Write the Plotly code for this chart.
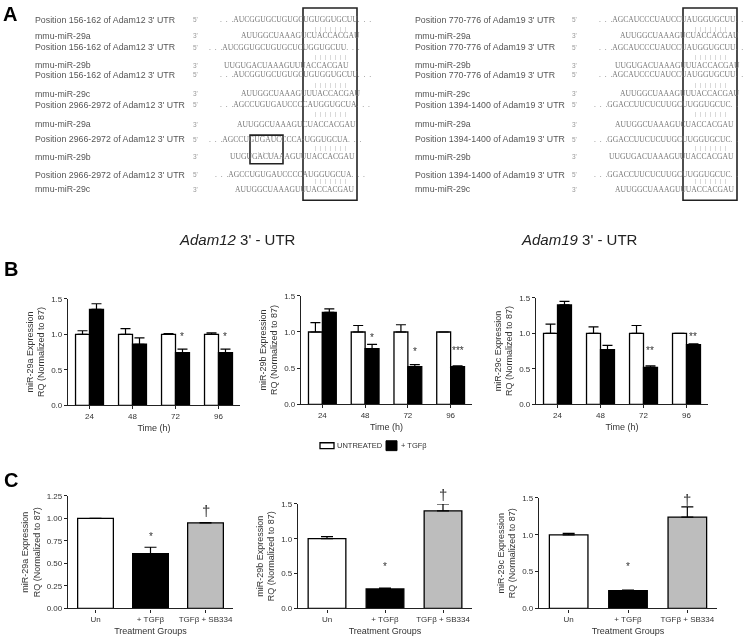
import plotly.graph_objects as go

W, H = 747, 641
def px(x): return x / W
def py(y): return 1 - y / H

D3 = ".\u2002.\u2002."  # spaced ellipsis used in the alignments
D2 = ".\u2002."

# ---------------- DATA ----------------
# Panel A: sequence alignments
adam12_labels = ["Position 156-162 of Adam12 3' UTR", "mmu-miR-29a",
                 "Position 156-162 of Adam12 3' UTR", "mmu-miR-29b",
                 "Position 156-162 of Adam12 3' UTR", "mmu-miR-29c",
                 "Position 2966-2972 of Adam12 3' UTR", "mmu-miR-29a",
                 "Position 2966-2972 of Adam12 3' UTR", "mmu-miR-29b",
                 "Position 2966-2972 of Adam12 3' UTR", "mmu-miR-29c"]
adam12_seqs = ["AUCGGUGCUGUGCUGUGGUGCUU", "AUUGGCUAAAGUCUACCACGAU",
               "AUCGGUGCUGUGCUCUGGUGCUU", "UUGUGACUAAAGUUUACCACGAU",
               "AUCGGUGCUGUGCUGUGGUGCUU", "AUUGGCUAAAGUUUACCACGAU",
               "AGCCUGUGAUCCCCAUGGUGCUA", "AUUGGCUAAAGUCUACCACGAU",
               "AGCCUGUGAUCCCCA-UGGUGCUA", "UUGUGACUAAAGUUUACCACGAU",
               "AGCCUGUGAUCCCCAUGGUGCUA", "AUUGGCUAAAGUUUACCACGAU"]
adam19_labels = ["Position 770-776 of Adam19 3' UTR", "mmu-miR-29a",
                 "Position 770-776 of Adam19 3' UTR", "mmu-miR-29b",
                 "Position 770-776 of Adam19 3' UTR", "mmu-miR-29c",
                 "Position 1394-1400 of Adam19 3' UTR", "mmu-miR-29a",
                 "Position 1394-1400 of Adam19 3' UTR", "mmu-miR-29b",
                 "Position 1394-1400 of Adam19 3' UTR", "mmu-miR-29c"]
adam19_seqs = ["AGCAUCCCUAUCCUAUGGUGCUU", "AUUGGCUAAAGUCUACCACGAU",
               "AGCAUCCCUAUCCUAUGGUGCUU", "UUGUGACUAAAGUUUACCACGAU",
               "AGCAUCCCUAUCCUAUGGUGCUU", "AUUGGCUAAAGUUUACCACGAU",
               "GGACCUUCUCUUGCUUGGUGCUC", "AUUGGCUAAAGUCUACCACGAU",
               "GGACCUUCUCUUGCUUGGUGCUC", "UUGUGACUAAAGUUUACCACGAU",
               "GGACCUUCUCUUGCUUGGUGCUC", "AUUGGCUAAAGUUUACCACGAU"]
primes = ["5'", "3'"] * 6

# Panel B: time course
times = ["24", "48", "72", "96"]
mirs = ["miR-29a", "miR-29b", "miR-29c"]
untreated = [[1.0, 1.0, 1.0, 1.0], [1.0, 1.0, 1.0, 1.0], [1.0, 1.0, 1.0, 1.0]]
untreated_err = [[0.05, 0.08, 0.01, 0.02], [0.13, 0.09, 0.10, 0.0], [0.13, 0.09, 0.11, 0.0]]
tgfb = [[1.35, 0.86, 0.74, 0.74], [1.27, 0.77, 0.52, 0.52], [1.40, 0.77, 0.52, 0.84]]
tgfb_err = [[0.08, 0.09, 0.05, 0.05], [0.05, 0.06, 0.03, 0.01], [0.05, 0.06, 0.02, 0.01]]
b_sig = [["", "", "*", "*"], ["", "*", "*", "***"], ["", "", "**", "**"]]
b_sig_y = [[0, 0, 0.97, 0.97], [0, 1.03, 0.73, 0.75], [0, 0, 0.76, 1.06]]

# Panel C: treatment groups
groups = ["Un", "+ TGF\u03b2", "TGF\u03b2 + SB334"]
c_vals = [[1.0, 0.61, 0.95], [1.0, 0.28, 1.40], [1.0, 0.24, 1.24]]
c_err = [[0.0, 0.07, 0.005], [0.03, 0.01, 0.10], [0.02, 0.01, 0.14]]
c_sig = [["", "*", "\u2020"], ["", "*", "\u2020"], ["", "*", "\u2020"]]
c_sig_y = [[0, 0.88, 1.21], [0, 0.50, 1.78], [0, 0.47, 1.62]]

# ---------------- FIGURE ----------------
fig = go.Figure()
TXT = "#333333"
SANS = "Liberation Sans"

b_dom_x = [(68, 240), (301, 472), (536, 708)]
b_dom_y = [(299, 407), (296, 406), (298, 406)]
c_dom_x = [(68, 233), (298, 472), (539, 717)]
c_dom_y = [(499, 613), (507, 613), (501, 613)]

annotations = []
shapes = []

def axis_common():
    return dict(showline=True, linecolor="#222", linewidth=1.3, ticks="outside",
                ticklen=3, tickwidth=1, tickcolor="#222", showgrid=False, zeroline=False,
                tickfont=dict(size=8, color=TXT, family=SANS))

err_style = dict(type="data", symmetric=False, color="black", thickness=1.2, width=5)

layout = {}
for i in range(3):
    ax = i + 1
    xa = "x" if ax == 1 else f"x{ax}"
    ya = "y" if ax == 1 else f"y{ax}"
    fig.add_trace(go.Bar(x=times, y=untreated[i], name="UNTREATED", xaxis=xa, yaxis=ya,
                         marker=dict(color="white", line=dict(color="black", width=1.3)),
                         error_y=dict(array=untreated_err[i], arrayminus=[0]*4, **err_style),
                         showlegend=False, cliponaxis=False))
    fig.add_trace(go.Bar(x=times, y=tgfb[i], name="+ TGF\u03b2", xaxis=xa, yaxis=ya,
                         marker=dict(color="black", line=dict(color="black", width=1.3)),
                         error_y=dict(array=tgfb_err[i], arrayminus=[0]*4, **err_style),
                         showlegend=False, cliponaxis=False))
    xd = b_dom_x[i]; yd = b_dom_y[i]
    xk = "xaxis" if ax == 1 else f"xaxis{ax}"
    yk = "yaxis" if ax == 1 else f"yaxis{ax}"
    layout[xk] = dict(axis_common(), domain=[px(xd[0]), px(xd[1])], anchor=ya,
                      type="category", range=[-0.5, 3.5],
                      title=dict(text="Time (h)", font=dict(size=9, color=TXT, family=SANS), standoff=4))
    layout[yk] = dict(axis_common(), domain=[py(yd[1]), py(yd[0])], anchor=xa,
                      range=[0, 1.5], tickvals=[0, 0.5, 1.0, 1.5], tickformat=".1f",
                      title=dict(text=f"{mirs[i]} Expression<br>RQ (Normalized to 87)",
                                 font=dict(size=9, color=TXT, family=SANS), standoff=4))
    for j, s in enumerate(b_sig[i]):
        if s:
            annotations.append(dict(x=j + 0.1625, y=b_sig_y[i][j] / 1.5, xref=xa, yref=f"{ya} domain",
                                    text=s, showarrow=False, xanchor="center",
                                    font=dict(size=10, color=TXT, family=SANS)))

for i in range(3):
    ax = i + 4
    xa = f"x{ax}"; ya = f"y{ax}"
    fig.add_trace(go.Bar(x=groups, y=c_vals[i], xaxis=xa, yaxis=ya,
                         marker=dict(color=["white", "black", "#bdbdbd"], line=dict(color="black", width=1.3)),
                         error_y=dict(array=c_err[i], arrayminus=[0]*3, **dict(err_style, width=6)),
                         showlegend=False, cliponaxis=False))
    xd = c_dom_x[i]; yd = c_dom_y[i]
    top = 1.25 if i == 0 else 1.5
    ticks = [0, 0.25, 0.5, 0.75, 1.0, 1.25] if i == 0 else [0, 0.5, 1.0, 1.5]
    layout[f"xaxis{ax}"] = dict(axis_common(), domain=[px(xd[0]), px(xd[1])], anchor=ya,
                                type="category", range=[-0.5, 2.5],
                                title=dict(text="Treatment Groups", font=dict(size=9, color=TXT, family=SANS), standoff=4))
    layout[f"yaxis{ax}"] = dict(axis_common(), domain=[py(yd[1]), py(yd[0])], anchor=xa,
                                range=[0, top], tickvals=ticks, tickformat=".2f" if i == 0 else ".1f",
                                title=dict(text=f"{mirs[i]} Expression<br>RQ (Normalized to 87)",
                                           font=dict(size=9, color=TXT, family=SANS), standoff=4))
    for j, s in enumerate(c_sig[i]):
        if s:
            annotations.append(dict(x=j, y=c_sig_y[i][j] / top, xref=xa, yref=f"{ya} domain",
                                    text=s, showarrow=False, xanchor="center",
                                    font=dict(size=10 if s == "*" else 15, color=TXT, family=SANS)))

# ---------------- Panel A text ----------------
row_y = [16, 32, 44, 62, 72, 91, 102, 122, 137, 155, 173, 188]
pipe_y = [25, 54, 82, 112, 146, 180]
cols = [
    dict(labels=adam12_labels, seqs=adam12_seqs, lab_x=33, prime_x=191, tail=D3,
         seq_x=[218, 239, 207, 222, 218, 239, 218, 235, 207, 228, 213, 233], pipe_x=330,
         box=(303, 357)),
    dict(labels=adam19_labels, seqs=adam19_seqs, lab_x=413, prime_x=570, tail=D2,
         seq_x=[597, 618, 597, 613, 597, 618, 592, 613, 592, 607, 592, 613], pipe_x=710,
         box=(683, 737)),
]
pipes7 = "\u2002".join(["|"] * 7)
pipes4 = "\u2002".join(["|"] * 4)
for c in cols:
    for k in range(12):
        seq = c["seqs"][k]
        if k % 2 == 0:
            seq = D3 + seq + c["tail"]
        annotations.append(dict(x=px(c["lab_x"]), y=py(row_y[k]), xref="paper", yref="paper",
                                text=c["labels"][k], showarrow=False, xanchor="left", yanchor="middle",
                                font=dict(size=8.8, color="#555", family=SANS)))
        annotations.append(dict(x=px(c["prime_x"]), y=py(row_y[k]), xref="paper", yref="paper",
                                text=primes[k], showarrow=False, xanchor="left", yanchor="middle",
                                font=dict(size=6.5, color="#999", family=SANS)))
        annotations.append(dict(x=px(c["seq_x"][k]), y=py(row_y[k]), xref="paper", yref="paper",
                                text=seq, showarrow=False, xanchor="left", yanchor="middle",
                                font=dict(size=7.6, color="#777", family="Liberation Serif")))
    for yv in pipe_y:
        annotations.append(dict(x=px(c["pipe_x"]), y=py(yv), xref="paper", yref="paper",
                                text=pipes7, showarrow=False, xanchor="center", yanchor="middle",
                                font=dict(size=7, color="#999", family="Liberation Serif")))
    shapes.append(dict(type="rect", xref="paper", yref="paper", x0=px(c["box"][0]), x1=px(c["box"][1]),
                       y0=py(199), y1=py(4), line=dict(color="#222", width=1.6)))
# extra seed pairing in Adam12 2966-2972 / miR-29b
annotations.append(dict(x=px(266), y=py(146), xref="paper", yref="paper", text=pipes4, showarrow=False,
                        xanchor="center", font=dict(size=7, color="#999", family="Liberation Serif")))
shapes.append(dict(type="rect", xref="paper", yref="paper", x0=px(250), x1=px(283), y0=py(162), y1=py(133),
                   line=dict(color="#222", width=1.6)))

# captions
annotations.append(dict(x=px(177), y=py(239), xref="paper", yref="paper", showarrow=False, xanchor="left",
                        text="<i>Adam12</i> 3' - UTR", font=dict(size=15, color="#222", family=SANS)))
annotations.append(dict(x=px(519), y=py(239), xref="paper", yref="paper", showarrow=False, xanchor="left",
                        text="<i>Adam19</i> 3' - UTR", font=dict(size=15, color="#222", family=SANS)))

# panel letters
for letter, (lx, ly) in zip(["A", "B", "C"], [(10, 10), (11, 269), (11, 483)]):
    annotations.append(dict(x=px(lx), y=py(ly), xref="paper", yref="paper", text=f"<b>{letter}</b>",
                            showarrow=False, xanchor="center", yanchor="middle",
                            font=dict(size=20, color="black", family=SANS)))

# legend (custom)
shapes.append(dict(type="rect", xref="paper", yref="paper", x0=px(320), x1=px(334), y0=py(451), y1=py(445),
                   line=dict(color="black", width=1.3), fillcolor="white"))
shapes.append(dict(type="rect", xref="paper", yref="paper", x0=px(386), x1=px(397), y0=py(453), y1=py(443),
                   line=dict(color="black", width=1), fillcolor="black"))
annotations.append(dict(x=px(335), y=py(448), xref="paper", yref="paper", text="UNTREATED", showarrow=False,
                        xanchor="left", yanchor="middle", font=dict(size=7.5, color=TXT, family=SANS)))
annotations.append(dict(x=px(399), y=py(448), xref="paper", yref="paper", text="+ TGF\u03b2", showarrow=False,
                        xanchor="left", yanchor="middle", font=dict(size=7.5, color=TXT, family=SANS)))

fig.update_layout(width=W, height=H, margin=dict(l=0, r=0, t=0, b=0),
                  paper_bgcolor="white", plot_bgcolor="white",
                  barmode="group", bargap=0.35, bargroupgap=0,
                  annotations=annotations, shapes=shapes, showlegend=False, **layout)

fig.write_html("out.html", config={"displayModeBar": False},
               post_script="document.body.style.margin='0px';document.body.style.overflow='hidden';"
                           "document.querySelectorAll('.main-svg').forEach(function(s){s.style.willChange='transform';});")
